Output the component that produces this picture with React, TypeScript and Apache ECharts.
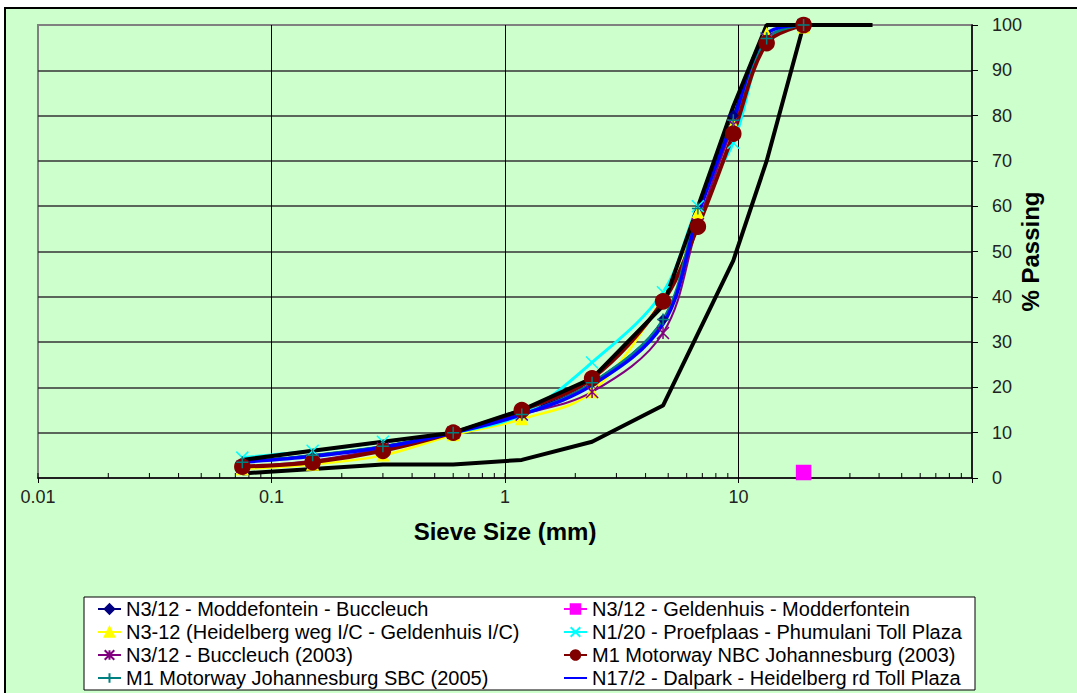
import React, { useEffect, useRef } from "react";
import * as echarts from "echarts";

// Sieve sizes (mm)
const sieves = [0.075, 0.15, 0.3, 0.6, 1.18, 2.36, 4.75, 6.7, 9.5, 13.2, 19];

// % passing per project
const navyVals = [3.5, 5, 7, 10, 14.5, 21, 35, 58, 80, 98, 100];
const magentaPoint = [[19, 1.2]];
const yellowVals = [2, 3, 5, 9.5, 13, 19, 40, 58.5, 78, 98, 99.5];
const cyanVals = [4.5, 6, 8, 10, 14, 25.5, 41, 60, 74, 97, 100];
const purpleVals = [2.5, 3.8, 6.5, 10, 14, 19, 32, 56, 78, 97, 100];
const redVals = [2.5, 3.5, 6, 10, 15, 22, 39, 55.5, 76, 96, 100];
const tealVals = [3.5, 5, 7, 10, 14, 21, 35, 59.5, 79, 97, 100];
const blueVals = [3.5, 4.8, 6.8, 10, 14, 20.5, 34, 58, 79, 98, 100];

// Grading envelope
const upperSieves = [0.075, 0.15, 0.3, 0.6, 1.18, 2.36, 4.75, 9.5, 13.2, 37.5];
const upperVals = [4, 6, 8, 10, 15, 22, 38, 82, 100, 100];
const lowerSieves = [0.075, 0.15, 0.3, 0.6, 1.18, 2.36, 4.75, 9.5, 13.2, 19];
const lowerVals = [1, 2, 3, 3, 4, 8, 16, 48, 70, 100];

// Log-axis tick positions (1..9 per decade)
const tickDecades = [0.01, 0.1, 1, 10];
const tickMultipliers = [1, 2, 3, 4, 5, 6, 7, 8, 9];

const names = [
  "N3/12 - Moddefontein - Buccleuch",
  "N3/12 - Geldenhuis - Modderfontein",
  "N3-12 (Heidelberg weg I/C - Geldenhuis I/C)",
  "N1/20 - Proefplaas - Phumulani Toll Plaza",
  "N3/12 - Buccleuch (2003)",
  "M1 Motorway NBC Johannesburg (2003)",
  "M1 Motorway Johannesburg SBC (2005)",
  "N17/2 - Dalpark - Heidelberg rd Toll Plaza",
];

const FONT = "'Liberation Sans', Arial, sans-serif";

const pair = (xs: number[], ys: number[]) => xs.map((x, i) => [x, ys[i]]);

const X_CROSS = "path://M0 0L10 10M10 0L0 10";
const ASTERISK = "path://M5 0L5 10M0 0L10 10M10 0L0 10";
const PLUS = "path://M5 0L5 10M0 5L10 5";

function lineSeries(name: string, data: any, color: string, width: number, symbol: string, size: number, extra: any = {}) {
  return {
    type: "line",
    name,
    data,
    smooth: 0.35,
    symbol,
    symbolSize: size,
    showSymbol: symbol !== "none",
    lineStyle: { color, width },
    itemStyle: { color, borderColor: color, borderWidth: 1.5 },
    emphasis: { disabled: true },
    ...extra,
  };
}

const legendCommon = {
  orient: "vertical",
  top: 599,
  padding: 0,
  itemGap: 3,
  itemWidth: 23,
  itemHeight: 12,
  selectedMode: false,
  textStyle: { fontSize: 20, lineHeight: 20, fontFamily: FONT, color: "#000" },
};

export default function App() {
  const ref = useRef<HTMLDivElement>(null);

  useEffect(() => {
    if (!ref.current) return;
    const chart = echarts.init(ref.current, undefined, { renderer: "svg" });

    const tickData: number[][] = [];
    tickDecades.forEach((d) => tickMultipliers.forEach((m) => tickData.push([d * m, 0])));

    const option: any = {
      animation: false,
      backgroundColor: "#ffffff",
      graphic: [
        {
          type: "rect",
          z: -10,
          silent: true,
          shape: { x: 5, y: 8, width: 1085, height: 700 },
          style: { fill: "#CCFFCC", stroke: "#000000", lineWidth: 2 },
        },
        {
          type: "rect",
          z: 1,
          silent: true,
          shape: { x: 84, y: 597, width: 891, height: 93 },
          style: { fill: "#ffffff", stroke: "#000000", lineWidth: 1 },
        },
      ],
      grid: {
        left: 38,
        right: 105,
        top: 25,
        bottom: 215,
        show: true,
        backgroundColor: "#CCFFCC",
        borderColor: "#808080",
        borderWidth: 2,
        containLabel: false,
      },
      xAxis: {
        type: "log",
        logBase: 10,
        min: 0.01,
        max: 100,
        name: "Sieve Size (mm)",
        nameLocation: "middle",
        nameGap: 41,
        nameTextStyle: { fontSize: 24, fontWeight: "bold", fontFamily: FONT, color: "#000" },
        axisLine: { show: true, onZero: false, lineStyle: { color: "#000", width: 1.5 } },
        axisTick: { show: true, length: 5, lineStyle: { color: "#000", width: 1 } },
        minorTick: { show: false },
        axisLabel: {
          fontSize: 18,
          fontFamily: FONT,
          color: "#222",
          margin: 10,
          formatter: (v: number) => (v >= 100 ? "" : String(v)),
        },
        splitLine: {
          show: true,
          showMinLine: false,
          showMaxLine: false,
          lineStyle: { color: "#000", width: 1 },
        },
      },
      yAxis: {
        type: "value",
        position: "right",
        min: 0,
        max: 100,
        interval: 10,
        name: "% Passing",
        nameLocation: "middle",
        nameGap: 46,
        nameRotate: 90,
        nameMoveOverlap: false,
        nameTextStyle: { fontSize: 24, fontWeight: "bold", fontFamily: FONT, color: "#000" },
        axisLine: { show: true, lineStyle: { color: "#000", width: 1.5 } },
        axisTick: { show: true, length: 6, inside: false, lineStyle: { color: "#000", width: 1 } },
        axisLabel: { fontSize: 18, fontFamily: FONT, color: "#222", margin: 20 },
        splitLine: {
          show: true,
          showMinLine: false,
          showMaxLine: false,
          lineStyle: { color: "#333", width: 1.5 },
        },
      },
      legend: [
        {
          ...legendCommon,
          left: 97,
          data: [names[0], names[2], names[4], names[6]],
        },
        {
          ...legendCommon,
          left: 563,
          data: [
            names[1],
            names[3],
            names[5],
            { name: names[7], itemStyle: { opacity: 0 } },
          ],
        },
      ],
      series: [
        lineSeries(names[0], pair(sieves, navyVals), "#000080", 2, "diamond", 9),
        lineSeries(names[1], magentaPoint, "#FF00FF", 2, "rect", 14),
        lineSeries(names[2], pair(sieves, yellowVals), "#FFFF00", 2.5, "triangle", 11),
        lineSeries(names[3], pair(sieves, cyanVals), "#00FFFF", 3, X_CROSS, 12),
        lineSeries(names[4], pair(sieves, purpleVals), "#800080", 2, ASTERISK, 12),
        lineSeries(names[5], pair(sieves, redVals), "#800000", 4, "circle", 15),
        lineSeries(names[6], pair(sieves, tealVals), "#008080", 2.5, PLUS, 12),
        lineSeries(names[7], pair(sieves, blueVals), "#0000FF", 3.5, "none", 0),
        {
          type: "line",
          name: "Upper limit",
          data: pair(upperSieves, upperVals),
          symbol: "none",
          smooth: false,
          lineStyle: { color: "#000", width: 4 },
          emphasis: { disabled: true },
        },
        {
          type: "line",
          name: "Lower limit",
          data: pair(lowerSieves, lowerVals),
          symbol: "none",
          smooth: false,
          lineStyle: { color: "#000", width: 4 },
          emphasis: { disabled: true },
        },
        {
          type: "custom",
          name: "ticks",
          data: tickData,
          silent: true,
          encode: { x: 0, y: 1 },
          renderItem: (params: any, api: any) => {
            const p = api.coord([api.value(0), 0]);
            return {
              type: "line",
              shape: { x1: p[0], y1: p[1], x2: p[0], y2: p[1] - 5 },
              style: { stroke: "#000", lineWidth: 1 },
            };
          },
        },
      ],
    };

    chart.setOption(option);
    return () => chart.dispose();
  }, []);

  return (
    <div
      ref={ref}
      style={{ position: "absolute", left: 0, top: 0, width: 1077, height: 693 }}
    />
  );
}
